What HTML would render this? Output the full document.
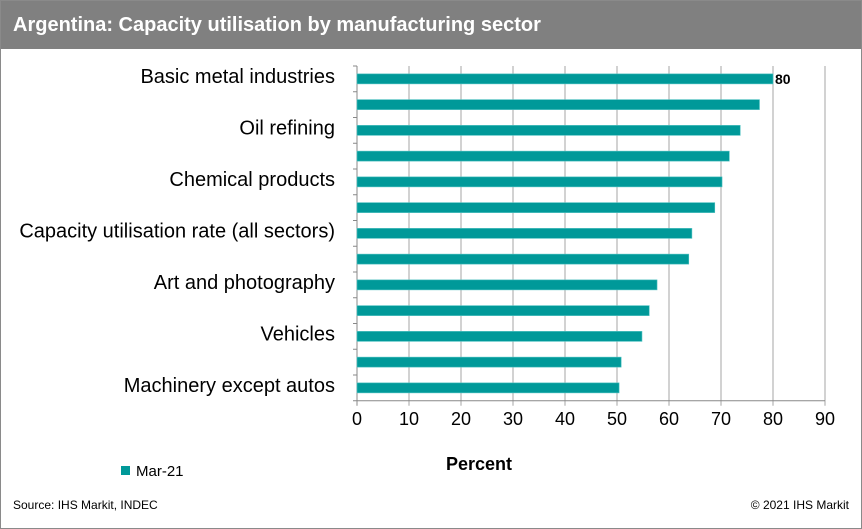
<!DOCTYPE html>
<html><head><meta charset="utf-8"><style>
body{margin:0;background:#fff;font-family:"Liberation Sans",Arial,sans-serif}
#wrap{position:relative;width:860px;height:527px;border:1px solid #8a8a8a;overflow:hidden}
#title{position:absolute;left:0;top:0;width:860px;height:48px;background:#808080;color:#fff;font-weight:bold;font-size:20px;line-height:48px;padding-left:12px;box-sizing:border-box}
svg{position:absolute;left:0;top:0}
.foot{position:absolute;top:497px;font-size:12px;color:#000}
</style></head><body>
<div id="wrap">
<div id="title">Argentina: Capacity utilisation by manufacturing sector</div>
<svg id="chart" width="862" height="529"></svg>
<div class="foot" style="left:12px">Source: IHS Markit, INDEC</div>
<div class="foot" style="right:12px">© 2021 IHS Markit</div>
</div>
<script>
const categories=["Basic metal industries","","Oil refining","","Chemical products","","Capacity utilisation rate (all sectors)","","Art and photography","","Vehicles","","Machinery except autos"];
const values=[80,77.4,73.7,71.6,70.2,68.8,64.4,63.8,57.7,56.2,54.8,50.8,50.4];
const ticks=[0,10,20,30,40,50,60,70,80,90];
const svg=document.getElementById('chart');
const NS='http://www.w3.org/2000/svg';
const x0=356,pxPer=5.2,plotTop=65,band=25.75;
const xs=v=>x0+v*pxPer;
function mk(t,a){const e=document.createElementNS(NS,t);for(const k in a)e.setAttribute(k,a[k]);svg.appendChild(e);return e;}
const bottom=plotTop+band*categories.length;
ticks.forEach(t=>{
 if(t>0){const g=mk('line',{x1:xs(t),x2:xs(t),y1:plotTop,y2:bottom+5,stroke:'#a6a6a6','stroke-width':1});
 
 }
 else{mk('line',{x1:xs(t),x2:xs(t),y1:bottom,y2:bottom+5,stroke:'#888'});}
 const l=mk('text',{x:xs(t),y:bottom+24,'text-anchor':'middle','font-size':18,fill:'#000'});l.textContent=t;
 
 
});
const ax=mk('line',{x1:x0,x2:x0,y1:plotTop,y2:bottom,stroke:'#888'});


const bx=mk('line',{x1:x0,x2:xs(90),y1:bottom,y2:bottom,stroke:'#888'});


for(let i=0;i<=categories.length;i++){mk('line',{x1:x0-4,x2:x0,y1:plotTop+i*band,y2:plotTop+i*band,stroke:'#888'});}
categories.forEach((c,i)=>{
 const yc=plotTop+(i+0.5)*band;
 const r=mk('rect',{x:x0,y:yc-5,width:xs(values[i])-x0,height:10,fill:'#009999',stroke:'#4fc1c1','stroke-width':0.6});
 
 
 if(c){const t=mk('text',{x:334,y:yc+4,'text-anchor':'end','font-size':20,fill:'#000'});t.textContent=c;
 
 }
});
const dl=mk('text',{x:xs(values[0])+2,y:plotTop+0.5*band+5,'font-size':14,'font-weight':'bold',fill:'#000'});dl.textContent=values[0];


const xt=mk('text',{x:478,y:469,'text-anchor':'middle','font-size':18,'font-weight':'bold',fill:'#000'});xt.textContent='Percent';


const lg=mk('rect',{x:120,y:465,width:9,height:9,fill:'#009999'});


const lt=mk('text',{x:135,y:475,'font-size':15,fill:'#000'});lt.textContent='Mar-21';


</script>
</body></html>
